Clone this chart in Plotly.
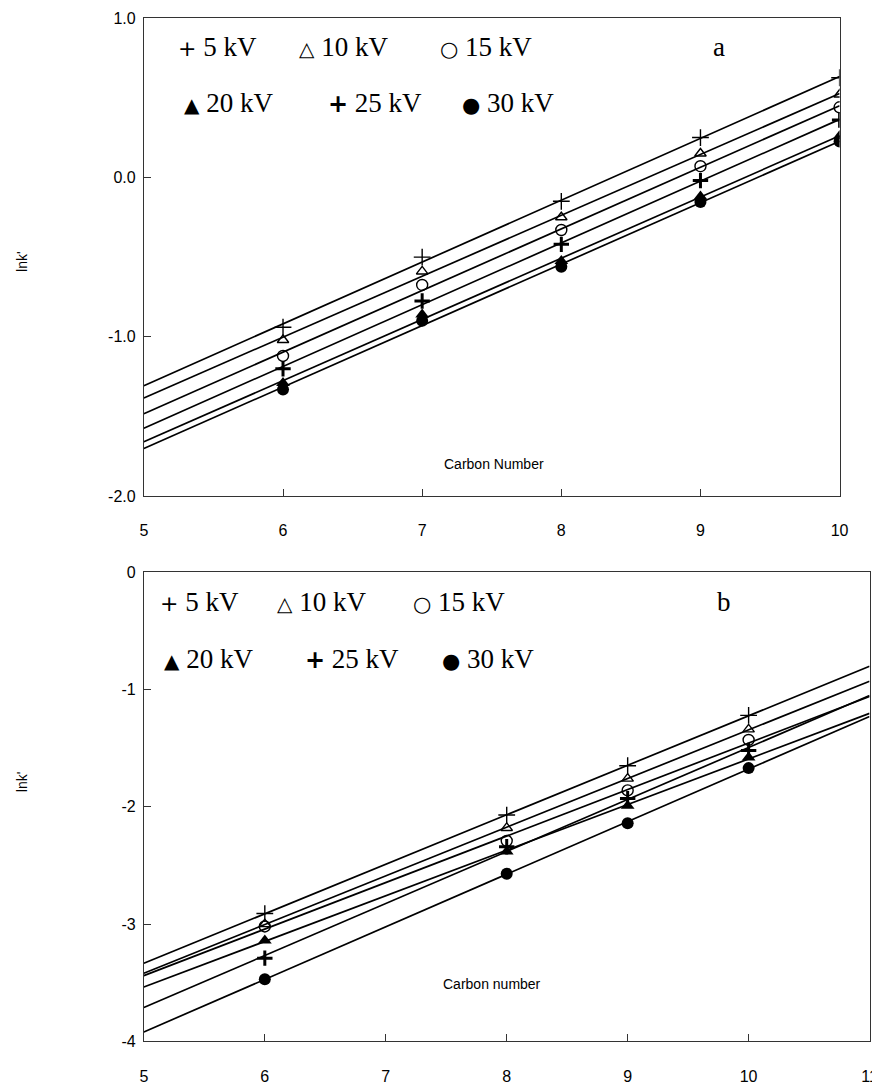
import numpy as np
import plotly.graph_objects as go

# ---------------- data ----------------
series_names = ["5 kV", "10 kV", "15 kV", "20 kV", "25 kV", "30 kV"]

carbon_a = [6, 7, 8, 9, 10]
a_5kv = [-0.94, -0.50, -0.15, 0.25, 0.625]
a_10kv = [-1.02, -0.59, -0.25, 0.15, 0.52]
a_15kv = [-1.12, -0.675, -0.33, 0.07, 0.44]
a_20kv = [-1.29, -0.86, -0.525, -0.12, 0.26]
a_25kv = [-1.20, -0.775, -0.42, -0.02, 0.36]
a_30kv = [-1.33, -0.90, -0.56, -0.155, 0.225]

carbon_b = [6, 8, 9, 10]
b_5kv = [-2.91, -2.07, -1.65, -1.22]
b_10kv = [-3.00, -2.18, -1.76, -1.34]
b_15kv = [-3.02, -2.29, -1.86, -1.43]
b_20kv = [-3.14, -2.38, -1.99, -1.58]
b_25kv = [-3.29, -2.34, -1.93, -1.52]
b_30kv = [-3.47, -2.57, -2.14, -1.67]

a_xticks = [5, 6, 7, 8, 9, 10]
a_yticks = [-2.0, -1.0, 0.0, 1.0]
a_yticktext = ["-2.0", "-1.0", "0.0", "1.0"]
b_xticks = [5, 6, 7, 8, 9, 10, 11]
b_yticks = [-4, -3, -2, -1, 0]
b_yticktext = ["-4", "-3", "-2", "-1", "0"]
a_line_span = [5, 10]
b_line_span = [5, 11]

# ---------------- styles ----------------
marker_styles = [
    dict(symbol="cross-thin-open", size=12, color="black", line=dict(color="black", width=1.4)),
    dict(symbol="triangle-up-open", size=10, color="black", line=dict(color="black", width=1.4)),
    dict(symbol="circle-open", size=11, color="black", line=dict(color="black", width=1.4)),
    dict(symbol="triangle-up", size=12, color="black", line=dict(color="black", width=0)),
    dict(symbol="cross-thin-open", size=11, color="black", line=dict(color="black", width=3)),
    dict(symbol="circle", size=12, color="black", line=dict(color="black", width=0)),
]

W, H = 880, 1090


def px(x):
    # reference-picture x pixel -> paper fraction
    return ((x - 10.9) / 0.987) / W


def py(y):
    # reference-picture y pixel -> paper fraction
    return 1 - ((y - 17) / 0.984) / H


fig = go.Figure()

panels = [
    ("x", "y", carbon_a, [a_5kv, a_10kv, a_15kv, a_20kv, a_25kv, a_30kv], a_line_span),
    ("x2", "y2", carbon_b, [b_5kv, b_10kv, b_15kv, b_20kv, b_25kv, b_30kv], b_line_span),
]

for xa, ya, cx, series, span in panels:
    for name, vals in zip(series_names, series):
        k, c = np.polyfit(cx, vals, 1)
        xs = np.array(span, dtype=float)
        fig.add_trace(go.Scatter(x=xs, y=k * xs + c, mode="lines",
                                 line=dict(color="black", width=1.7),
                                 xaxis=xa, yaxis=ya, showlegend=False, hoverinfo="skip"))
    for name, vals, ms in zip(series_names, series, marker_styles):
        fig.add_trace(go.Scatter(x=cx, y=vals, mode="markers", marker=ms, name=name,
                                 xaxis=xa, yaxis=ya, showlegend=False))

tickfont = dict(family="Liberation Sans, Arial, sans-serif", size=16, color="black")
axis_common = dict(showline=True, linecolor="#333", linewidth=1, mirror=True,
                   ticks="inside", tickcolor="#333", ticklen=7, showgrid=False,
                   zeroline=False, tickfont=tickfont)

fig.update_layout(
    width=W, height=H,
    margin=dict(l=0, r=0, t=0, b=0),
    paper_bgcolor="white", plot_bgcolor="white",
    showlegend=False,
    xaxis=dict(domain=[px(143), px(840)], range=[5, 10], tickvals=a_xticks,
               ticklabelstandoff=20, anchor="y", **axis_common),
    yaxis=dict(domain=[py(497), py(19)], range=[-2, 1], tickvals=a_yticks,
               ticktext=a_yticktext, ticklabelstandoff=4, anchor="x", **axis_common),
    xaxis2=dict(domain=[px(143), px(870)], range=[5, 11], tickvals=b_xticks,
                ticklabelstandoff=20, anchor="y2", **axis_common),
    yaxis2=dict(domain=[py(1042), py(573)], range=[-4, 0], tickvals=b_yticks,
                ticktext=b_yticktext, ticklabelstandoff=4, anchor="x2", **axis_common),
)

SERIF = "Liberation Serif, Times New Roman, serif"
serif = dict(family=SERIF, size=27, color="black")
sans = dict(family="Liberation Sans, Arial, sans-serif", size=14, color="black")


def ann(text, x, y, font, xanchor="left", **kw):
    fig.add_annotation(text=text, x=px(x), y=py(y), xref="paper", yref="paper",
                       showarrow=False, xanchor=xanchor, yanchor="middle", font=font, **kw)


def sym(ch, size):
    return "<span style='font-size:%dpx;font-family:DejaVu Sans'>%s</span>" % (size, ch)


legend_items = [
    (sym("+", 22) + " 5 kV", 0, 0),
    (sym("\u25B3", 20) + " 10 kV", 1, 0),
    (sym("\u25CB", 21) + " 15 kV", 2, 0),
    (sym("\u25B2", 20) + " 20 kV", 0, 1),
    ("<b>" + sym("+", 24) + "</b> 25 kV", 1, 1),
    (sym("\u25CF", 21) + " 30 kV", 2, 1),
]
legend_layout = {
    "a": dict(row_y=[48, 104], row1_x=[175, 296, 438], row2_x=[181, 325, 460], letter=(719, 48)),
    "b": dict(row_y=[603, 660], row1_x=[157, 274, 411], row2_x=[161, 302, 440], letter=(724, 603)),
}
for label, L in legend_layout.items():
    for txt, col, row in legend_items:
        x = L["row1_x"][col] if row == 0 else L["row2_x"][col]
        ann(txt, x, L["row_y"][row], serif)
    ann(label, L["letter"][0], L["letter"][1], serif, xanchor="center")

ann("Carbon Number", 494, 465, sans, xanchor="center")
ann("Carbon number", 492, 985, sans, xanchor="center")

# y-axis titles placed directly in figure pixels so they stay inside the page
for ycen in (262, 782):
    fig.add_annotation(text="lnk'", x=10 / W, y=py(ycen), xref="paper", yref="paper",
                       showarrow=False, xanchor="center", yanchor="middle",
                       font=sans, textangle=-90)

fig.write_html("out.html")
